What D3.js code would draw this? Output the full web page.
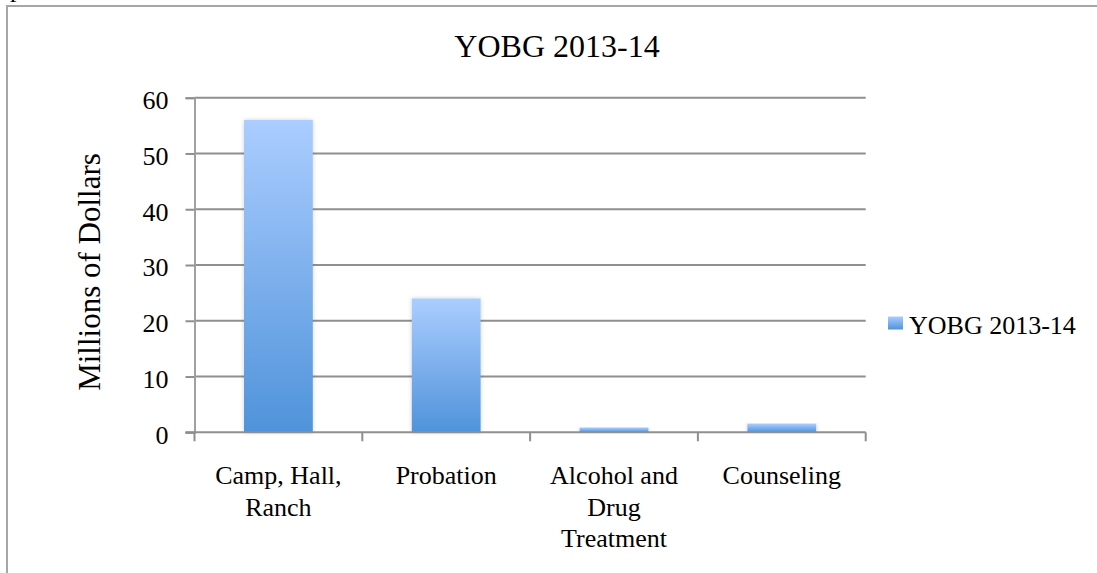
<!DOCTYPE html>
<html>
<head>
<meta charset="utf-8">
<script src="https://cdnjs.cloudflare.com/ajax/libs/d3/7.8.5/d3.min.js"></script>
<style>
  body { margin: 0; background: #fff; }
  svg text { font-family: "Liberation Serif", "Times New Roman", serif; fill: #000; }
</style>
</head>
<body>
<div id="chart"></div>
<script>
// chart values
var categories = ["Camp, Hall, Ranch", "Probation", "Alcohol and Drug Treatment", "Counseling"];
var labelLines = [["Camp, Hall,", "Ranch"], ["Probation"], ["Alcohol and", "Drug", "Treatment"], ["Counseling"]];
var values = [56, 24, 0.85, 1.55];
var yTicks = [0, 10, 20, 30, 40, 50, 60];
var seriesName = "YOBG 2013-14";

var width = 1097, height = 573;
var plotLeft = 194.5, plotRight = 865.7, plotTop = 97.7, plotBottom = 432.3;

var svg = d3.select("#chart").append("svg")
  .attr("width", width).attr("height", height);

var defs = svg.append("defs");
var grad = defs.append("linearGradient")
  .attr("id", "barGrad").attr("x1", 0).attr("y1", 0).attr("x2", 0).attr("y2", 1);
grad.append("stop").attr("offset", "0%").attr("stop-color", "#abcdff");
grad.append("stop").attr("offset", "100%").attr("stop-color", "#4f93da");

var shadow = defs.append("filter").attr("id", "shadow")
  .attr("x", "-20%").attr("y", "-5%").attr("width", "140%").attr("height", "110%");
shadow.append("feDropShadow").attr("dx", 0).attr("dy", 0).attr("stdDeviation", 2)
  .attr("flood-color", "#000").attr("flood-opacity", 0.18);

// outer frame (runs past the window on the right and bottom)
svg.append("rect")
  .attr("x", 7).attr("y", 6).attr("width", 1200).attr("height", 700)
  .attr("fill", "none").attr("stroke", "#a6a6a6").attr("stroke-width", 2);

// fragment of text sitting above the frame
svg.append("text").attr("x", 10).attr("y", -3).style("font-size", "26px").text("p");

var x = d3.scaleBand().domain(categories).range([plotLeft, plotRight]).padding(0);
var y = d3.scaleLinear().domain([0, 60]).range([plotBottom, plotTop]);

// gridlines
svg.append("g").selectAll("line")
  .data(yTicks.filter(function(d) { return d > 0; }))
  .enter().append("line")
  .attr("x1", plotLeft).attr("x2", plotRight)
  .attr("y1", function(d) { return y(d); }).attr("y2", function(d) { return y(d); })
  .attr("stroke", "#8f8f8f").attr("stroke-width", 2);

// y axis
var yAxis = svg.append("g").attr("transform", "translate(" + plotLeft + ",0)")
  .call(d3.axisLeft(y).tickValues(yTicks).tickSize(9).tickPadding(17));
yAxis.select(".domain").attr("stroke", "#a0a0a0").attr("stroke-width", 2);
yAxis.selectAll(".tick line").attr("stroke", "#8f8f8f").attr("stroke-width", 2);
yAxis.selectAll(".tick text").style("font-size", "26px")
  .style("font-family", "Liberation Serif").attr("dy", "0.42em");

// bars
svg.append("g").selectAll("rect")
  .data(categories)
  .enter().append("rect")
  .attr("x", function(d) { return x(d) + x.bandwidth() * 0.295; })
  .attr("width", x.bandwidth() * 0.41)
  .attr("y", function(d, i) { return y(values[i]); })
  .attr("height", function(d, i) { return y(0) - y(values[i]); })
  .attr("fill", "url(#barGrad)")
  .attr("filter", "url(#shadow)");

// x axis
var xAxis = svg.append("g").attr("transform", "translate(0," + plotBottom + ")");
xAxis.append("line").attr("x1", plotLeft - 9).attr("x2", plotRight)
  .attr("stroke", "#8f8f8f").attr("stroke-width", 2);
xAxis.selectAll("line.tk")
  .data(categories.concat(["end"]))
  .enter().append("line").attr("class", "tk")
  .attr("x1", function(d, i) { return i < categories.length ? x(d) : plotRight; })
  .attr("x2", function(d, i) { return i < categories.length ? x(d) : plotRight; })
  .attr("y1", 0).attr("y2", 9)
  .attr("stroke", "#8f8f8f").attr("stroke-width", 2);

var xl = svg.append("g").selectAll("text")
  .data(categories)
  .enter().append("text")
  .attr("text-anchor", "middle")
  .style("font-size", "26px")
  .attr("x", function(d) { return x(d) + x.bandwidth() / 2; })
  .attr("y", plotBottom + 52);
xl.each(function(d, i) {
  var t = d3.select(this);
  labelLines[i].forEach(function(line, j) {
    t.append("tspan").attr("x", x(d) + x.bandwidth() / 2)
      .attr("dy", j === 0 ? 0 : 31.5).text(line);
  });
});

// title
svg.append("text").attr("x", 557).attr("y", 57)
  .attr("text-anchor", "middle").style("font-size", "32px").text(seriesName);

// y axis title
svg.append("text")
  .attr("transform", "translate(100,272) rotate(-90)")
  .attr("text-anchor", "middle").style("font-size", "31px").text("Millions of Dollars");

// legend
svg.append("rect").attr("x", 888).attr("y", 316.5).attr("width", 15).attr("height", 13)
  .attr("fill", "url(#barGrad)");
svg.append("text").attr("x", 909).attr("y", 334).style("font-size", "26px").text(seriesName);
</script>
</body>
</html>
